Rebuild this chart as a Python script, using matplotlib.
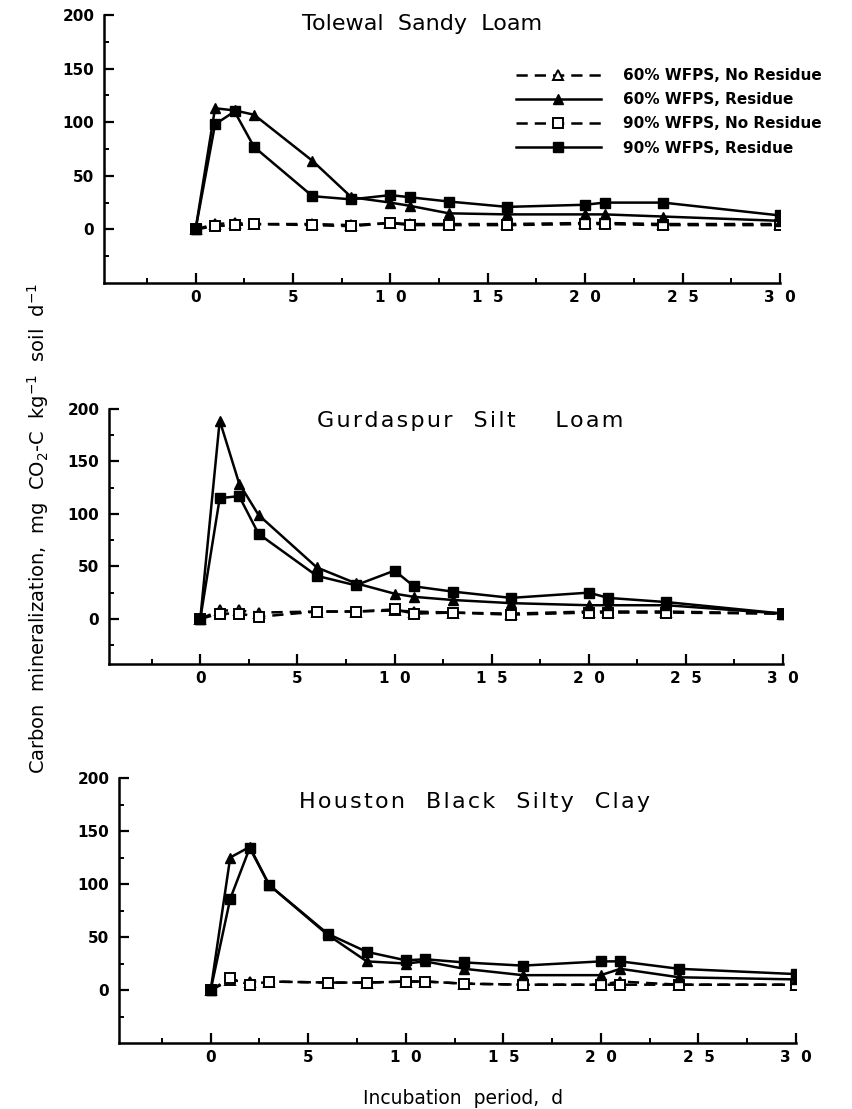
import matplotlib
matplotlib.use("Agg")
import matplotlib.pyplot as plt
from matplotlib.ticker import FixedLocator, FixedFormatter

days = [0, 1, 2, 3, 6, 8, 10, 11, 13, 16, 20, 21, 24, 30]

tol_r60 = [0, 113, 111, 107, 64, 30, 25, 22, 15, 14, 14, 14, 12, 8]
tol_r90 = [0, 98, 110, 77, 31, 28, 32, 30, 26, 21, 23, 25, 25, 13]
tol_nr60 = [0, 5, 6, 5, 5, 4, 6, 5, 5, 5, 6, 6, 5, 5]
tol_nr90 = [0, 3, 4, 5, 4, 3, 6, 4, 4, 4, 5, 5, 4, 4]

gur_r60 = [0, 189, 129, 99, 49, 34, 24, 21, 18, 15, 13, 13, 13, 5]
gur_r90 = [0, 115, 117, 81, 41, 32, 46, 31, 26, 20, 25, 20, 16, 5]
gur_nr60 = [0, 8, 8, 6, 7, 7, 8, 7, 6, 5, 7, 7, 7, 5]
gur_nr90 = [0, 5, 5, 2, 7, 7, 9, 5, 6, 4, 6, 6, 6, 5]

hou_r60 = [0, 125, 135, 99, 52, 27, 25, 27, 20, 14, 14, 20, 12, 10]
hou_r90 = [0, 86, 134, 99, 53, 36, 28, 29, 26, 23, 27, 27, 20, 15]
hou_nr60 = [0, 9, 8, 8, 7, 7, 8, 8, 6, 5, 5, 8, 5, 5]
hou_nr90 = [0, 11, 5, 8, 7, 7, 8, 8, 6, 5, 5, 5, 5, 5]

titles = ["Tolewal  Sandy  Loam", "Gurdaspur  Silt    Loam", "Houston  Black  Silty  Clay"]
series_labels = ["60% WFPS, No Residue", "60% WFPS, Residue",
                 "90% WFPS, No Residue", "90% WFPS, Residue"]
xtick_vals = [0, 5, 10, 15, 20, 25, 30]
xtick_text = ["0", "5", "1  0", "1  5", "2  0", "2  5", "3  0"]
ytick_vals = [0, 50, 100, 150, 200]

panels = [
    (titles[0], tol_nr60, tol_r60, tol_nr90, tol_r90),
    (titles[1], gur_nr60, gur_r60, gur_nr90, gur_r90),
    (titles[2], hou_nr60, hou_r60, hou_nr90, hou_r90),
]


def spaced(s, on):
    return "\u200a".join(s) if on else s


W, H = 852, 1109
fig = plt.figure(figsize=(W / 100, H / 100), dpi=100)

# pixel boxes: left, right, top, bottom
boxes = [(104, 780, 15, 283), (109, 783, 409, 664), (119, 796, 778, 1043)]
ylims = [(-50, 200), (-43, 200), (-50, 200)]
xlim = (-4.7, 30)
title_pos = [(0.293, 0.966), (0.309, 0.953), (0.266, 0.909)]
title_spacing = [False, True, True]

tfont = "DejaVu Sans"
lw = 1.8
for i, (title, nr60, r60, nr90, r90) in enumerate(panels):
    l, r, t, b = boxes[i]
    ax = fig.add_axes([l / W, 1 - b / H, (r - l) / W, (b - t) / H])
    ax.plot(days, nr60, color="black", lw=lw, ls=(0, (4.5, 2.8)), marker="^",
            ms=7, mfc="white", mec="black", mew=1.4, label=series_labels[0])
    ax.plot(days, nr90, color="black", lw=lw, ls=(0, (4.5, 2.8)), marker="s",
            ms=6.5, mfc="white", mec="black", mew=1.4, label=series_labels[2])
    ax.plot(days, r60, color="black", lw=lw, ls="-", marker="^",
            ms=7.5, mfc="black", mec="black", label=series_labels[1])
    ax.plot(days, r90, color="black", lw=lw, ls="-", marker="s",
            ms=7, mfc="black", mec="black", label=series_labels[3])
    ax.set_xlim(*xlim)
    ax.set_ylim(*ylims[i])
    for s in ["top", "right"]:
        ax.spines[s].set_visible(False)
    for s in ["left", "bottom"]:
        ax.spines[s].set_linewidth(1.8)
    ax.spines["left"].set_bounds(ylims[i][0], 200)
    ax.xaxis.set_major_locator(FixedLocator(xtick_vals))
    ax.xaxis.set_major_formatter(FixedFormatter(xtick_text))
    ax.xaxis.set_minor_locator(FixedLocator([-2.5, 2.5, 7.5, 12.5, 17.5, 22.5, 27.5]))
    ax.yaxis.set_major_locator(FixedLocator(ytick_vals))
    ax.yaxis.set_minor_locator(FixedLocator([-25, 25, 75, 125, 175]))
    ax.tick_params(which="major", direction="in", length=7, width=1.6)
    ax.tick_params(which="minor", direction="in", length=3.5, width=1.4)
    ax.tick_params(axis="x", which="major", pad=5)
    ax.tick_params(axis="y", which="major", pad=7)
    for lab in ax.get_xticklabels() + ax.get_yticklabels():
        lab.set_fontfamily("DejaVu Sans")
        lab.set_fontweight("bold")
        lab.set_fontsize(11)
    tx, ty = title_pos[i]
    ax.text(tx, ty, spaced(title, title_spacing[i]), transform=ax.transAxes,
            ha="left", va="center", fontsize=16, fontfamily=tfont)
    if i == 0:
        handles, labels = ax.get_legend_handles_labels()
        order = [labels.index(s) for s in series_labels]
        ax.legend([handles[k] for k in order], [labels[k] for k in order],
                  loc="upper left", bbox_to_anchor=(0.60, 0.825),
                  frameon=False, handlelength=5.6, handletextpad=1.4,
                  labelspacing=0.6, borderaxespad=0,
                  prop={"family": "DejaVu Sans", "weight": "bold", "size": 11})

fig.text(38 / W, 1 - 528 / H,
         r"Carbon  mineralization,  mg  CO$_2$-C  kg$^{-1}$  soil  d$^{-1}$",
         rotation=90, ha="center", va="center", fontsize=14, fontfamily="DejaVu Sans")
fig.text(463 / W, 1 - 1099 / H, "Incubation  period,  d", ha="center", va="center",
         fontsize=13.5, fontfamily="DejaVu Sans")

fig.savefig("out.png", dpi=100)
